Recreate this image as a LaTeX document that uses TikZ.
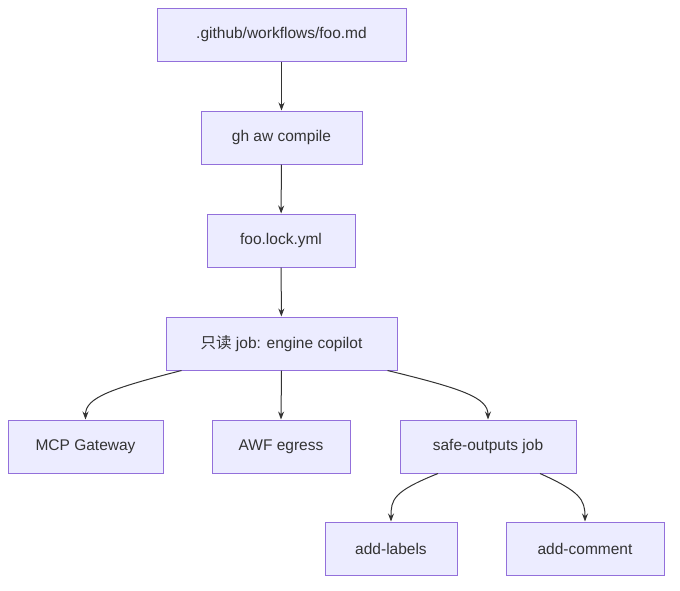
\documentclass[tikz,border=0pt]{standalone}
\usepackage{fontspec}
\setmainfont{Liberation Sans}
\newfontfamily\cjk{Noto Sans CJK SC}
\usetikzlibrary{arrows.meta,calc}
\definecolor{nfill}{HTML}{ECECFF}
\definecolor{nstroke}{HTML}{9370DB}
\definecolor{edge}{HTML}{333333}
\begin{document}
\begin{tikzpicture}[x=1pt,y=-1pt,
  box/.style={draw=nstroke,fill=nfill,line width=1pt,minimum height=53pt,inner sep=0pt,font=\fontsize{15.5}{18}\selectfont,text=edge},
  arr/.style={draw=edge,line width=1pt,-{Stealth[length=8pt,width=6pt]}}]
\useasboundingbox (0,0) rectangle (680,590);
\node[box,minimum width=249pt] (a) at (281.5,34.5) {.github/workflows/foo.md};
\node[box,minimum width=161pt] (b) at (281.5,137.5) {gh aw compile};
\node[box,minimum width=148pt] (c) at (281,240.5) {foo.lock.yml};
\node[box,minimum width=231pt] (d) at (281.5,343.5) {{\cjk 只读} job: engine copilot};
\node[box,minimum width=155pt] (e) at (85.5,446.5) {MCP Gateway};
\node[box,minimum width=138pt] (f) at (281,446.5) {AWF egress};
\node[box,minimum width=176pt] (g) at (488,446.5) {safe-outputs job};
\node[box,minimum width=132pt] (h) at (391,548.5) {add-labels};
\node[box,minimum width=158pt] (i) at (585,548.5) {add-comment};
\draw[arr] (a) -- (b);
\draw[arr] (b) -- (c);
\draw[arr] (c) -- (d);
\draw[arr] (d.south) -- (f.north);
\draw[arr] ($(d.south)+(-100,0)$) .. controls ($(d.south)+(-170,18)$) and ($(e.north)+(0,-22)$) .. (e.north);
\draw[arr] ($(d.south)+(106,0)$) .. controls ($(d.south)+(180,18)$) and ($(g.north)+(0,-22)$) .. (g.north);
\draw[arr] ($(g.south)+(-50,0)$) .. controls ($(g.south)+(-95,18)$) and ($(h.north)+(0,-22)$) .. (h.north);
\draw[arr] ($(g.south)+(52,0)$) .. controls ($(g.south)+(92,18)$) and ($(i.north)+(0,-22)$) .. (i.north);
\end{tikzpicture}
\end{document}
